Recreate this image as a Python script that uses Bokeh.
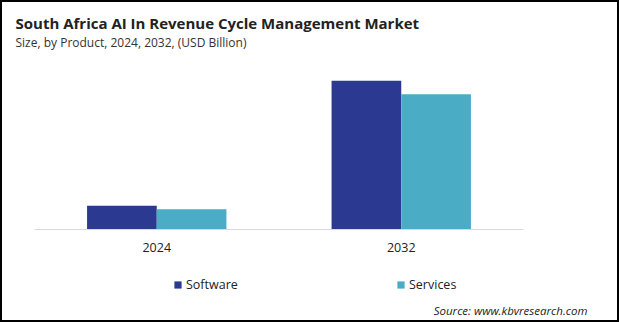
from bokeh.plotting import figure
from bokeh.layouts import column
from bokeh.models import (FactorRange, Range1d, Label, Legend, LegendItem,
                          ColumnDataSource)
from bokeh.transform import dodge
from bokeh.embed import file_html
from bokeh.resources import INLINE

# ---- data ----
years = ["2024", "2032"]
software = [0.28, 1.76]
services = [0.24, 1.60]
series_names = ["Software", "Services"]
colors = ["#2b3990", "#4bacc6"]

title_text = "South Africa AI In Revenue Cycle Management Market"
subtitle_text = "Size, by Product, 2024, 2032, (USD Billion)"
source_text = "Source: www.kbvresearch.com"

W = 615
H_HEAD, H_CHART, H_FOOT = 56, 207, 55


def blank(h):
    f = figure(width=W, height=h, output_backend="svg", toolbar_location=None,
               x_range=Range1d(0, W), y_range=Range1d(0, h),
               x_axis_type=None, y_axis_type=None,
               min_border_left=0, min_border_right=0,
               min_border_top=0, min_border_bottom=0)
    f.frame_align = False
    f.outline_line_color = None
    f.grid.visible = False
    f.background_fill_color = "white"
    f.border_fill_color = "white"
    return f


# ---- header ----
head = blank(H_HEAD)
head.add_layout(Label(text=title_text, x=13, y=36,
                      text_font="Open Sans", text_font_size="15px",
                      text_font_style="bold", text_color="#222222",
                      text_baseline="alphabetic", text_align="left"))
head.add_layout(Label(text=subtitle_text, x=13, y=16,
                      text_font="Open Sans", text_font_size="12px",
                      text_color="#333333",
                      text_baseline="alphabetic", text_align="left"))

# ---- chart ----
src = ColumnDataSource(dict(year=years, software=software, services=services))
p = figure(width=W, height=H_CHART, output_backend="svg", toolbar_location=None,
           x_range=FactorRange(*years), y_range=Range1d(0, 2.0),
           min_border_left=32, min_border_right=94, min_border_top=2,
           min_border_bottom=36)
p.frame_align = False
p.outline_line_color = None
p.background_fill_color = "white"
p.border_fill_color = "white"
p.grid.visible = False
p.yaxis.visible = False

p.vbar(x=dodge("year", -0.1425, range=p.x_range), top="software", width=0.285,
       source=src, fill_color=colors[0], line_color=None)
p.vbar(x=dodge("year", 0.1425, range=p.x_range), top="services", width=0.285,
       source=src, fill_color=colors[1], line_color=None)

ax = p.xaxis[0]
ax.axis_line_color = "#d9d9d9"
ax.axis_line_width = 1
ax.major_tick_line_color = None
ax.minor_tick_line_color = None
ax.major_tick_out = 0
ax.major_tick_in = 0
ax.major_label_standoff = 13
ax.major_label_text_font = "Open Sans"
ax.major_label_text_font_size = "12.5px"
ax.major_label_text_color = "#222222"

# ---- footer (legend + source) ----
foot = blank(H_FOOT)
# hidden copies of the series, only used to draw the legend swatches
lr1 = foot.vbar(x="software", top="software", width=1, source=src,
                fill_color=colors[0], line_color=None, visible=False)
lr2 = foot.vbar(x="services", top="services", width=1, source=src,
                fill_color=colors[1], line_color=None, visible=False)
legend = Legend(items=[LegendItem(label=series_names[0], renderers=[lr1]),
                       LegendItem(label=series_names[1], renderers=[lr2])],
                orientation="horizontal", location=(171, 27),
                glyph_width=9, glyph_height=9, label_standoff=4,
                label_width=60, spacing=150, padding=0, margin=0,
                label_text_font="Open Sans", label_text_font_size="12.5px",
                label_text_color="#222222", border_line_color=None,
                background_fill_alpha=0)
foot.add_layout(legend, "center")
foot.add_layout(Label(text=source_text, x=585, y=10,
                      text_font="Open Sans", text_font_size="11.5px",
                      text_font_style="italic", text_color="#222222",
                      text_baseline="alphabetic", text_align="right"))

layout = column(head, p, foot, spacing=0)
layout.styles = {"border": "2px solid black"}

open("out.html", "w").write(file_html(layout, INLINE))
